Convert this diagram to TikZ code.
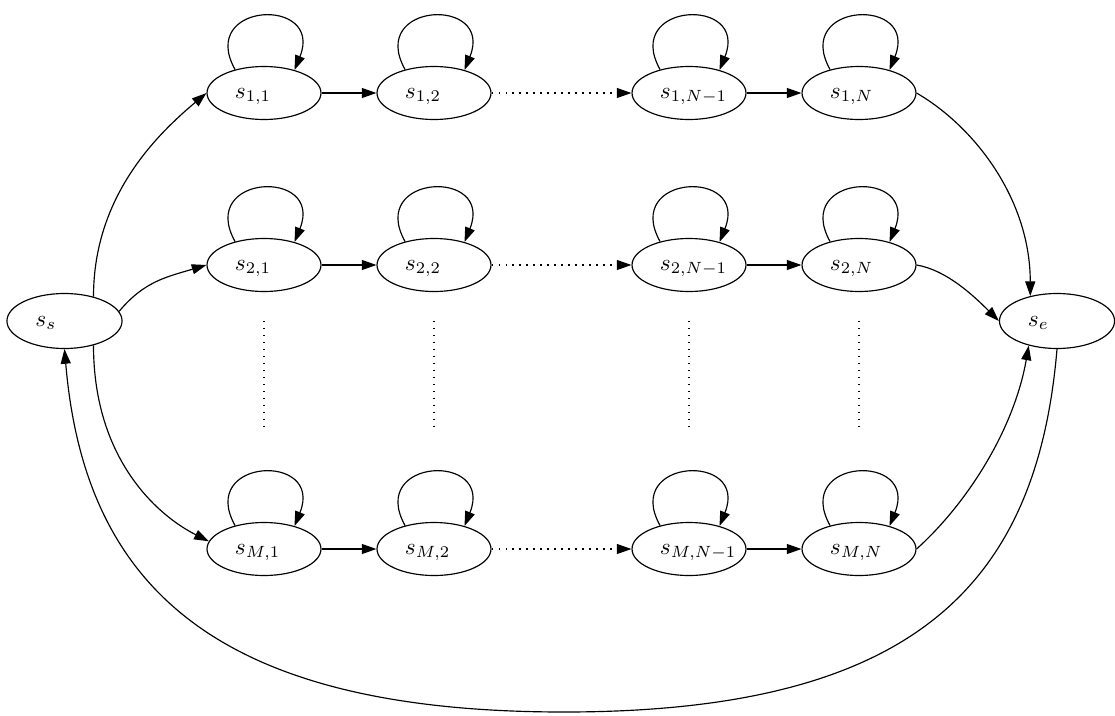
\documentclass[tikz,border=0pt]{standalone}
\usetikzlibrary{arrows.meta,shapes.geometric}
\newcommand{\lbl}[1]{\makebox[25pt][l]{$#1$}}
\tikzset{
  state/.style={draw, ellipse, inner sep=0pt, minimum width=49pt, minimum height=22.8pt,
    line width=0.5pt, text height=4.3pt, text depth=0pt},
  endstate/.style={state, minimum width=49.5pt, minimum height=23.65pt},
  edge/.style={line width=0.5pt, -{Triangle[length=6.3pt,width=4.3pt]}},
  dotedge/.style={edge, dash pattern=on 0.6pt off 2.4pt},
  vdots/.style={line width=0.5pt, dash pattern=on 0.6pt off 2.4pt},
}
\begin{document}
\begin{tikzpicture}[x=0.43pt,y=0.43pt]
\useasboundingbox (0,0) rectangle (1115,715);

% start and end states
\node[endstate] (ss) at (64.5,394) {\lbl{s_s}};
\node[endstate] (se) at (1057,394) {\lbl{s_e}};

% grid of states
\node[state] (s11) at (264,622) {\lbl{s_{1,1}}};
\node[state] (s12) at (434,622) {\lbl{s_{1,2}}};
\node[state] (s1n1) at (689,622) {\lbl{s_{1,N-1}}};
\node[state] (s1n) at (859,622) {\lbl{s_{1,N}}};

\node[state] (s21) at (264,450) {\lbl{s_{2,1}}};
\node[state] (s22) at (434,450) {\lbl{s_{2,2}}};
\node[state] (s2n1) at (689,450) {\lbl{s_{2,N-1}}};
\node[state] (s2n) at (859,450) {\lbl{s_{2,N}}};

\node[state] (sm1) at (264,166) {\lbl{s_{M,1}}};
\node[state] (sm2) at (434,166) {\lbl{s_{M,2}}};
\node[state] (smn1) at (689,166) {\lbl{s_{M,N-1}}};
\node[state] (smn) at (859,166) {\lbl{s_{M,N}}};

% self loops
\foreach \n in {s11,s12,s1n1,s1n,s21,s22,s2n1,s2n,sm1,sm2,smn1,smn}
  \draw[edge] (\n.141) .. controls +(-38,68) and +(30,74) .. (\n.37);

% row transitions
\foreach \r in {1,2,m} {
  \draw[edge] (s\r1) -- (s\r2);
  \draw[dotedge] (s\r2) -- (s\r n1);
  \draw[edge] (s\r n1) -- (s\r n);
}

% vertical ellipsis between rows 2 and M
\foreach \c/\x in {a/264,b/434,c/689,d/859} {
  \coordinate (top\c) at (\x,394);
  \coordinate (bot\c) at (\x,286);
  \draw[vdots] (top\c) -- (bot\c);
}

% entries from the start state
\draw[edge] (ss.40) .. controls +(0,100) and +(-50,-42) .. (s11.west);
\draw[edge] (ss.10) .. controls +(25,30) and +(-40,-12) .. (s21.west);
\draw[edge] (ss.-40) .. controls +(0,-115) and +(-50,25) .. (sm1.172);

% exits into the end state
\draw[edge] (s1n.east) .. controls +(60,-35) and +(0,95) .. (se.137);
\draw[edge] (s2n.east) .. controls +(30,-5) and +(-25,25) .. (se.west);
\draw[edge] (smn.east) .. controls +(50,45) and +(-15,-85) .. (se.221);

% return from end to start
\coordinate (low) at (564,3);
\draw[edge] (se.south) .. controls +(-20,-236) and +(350,0) .. (low)
  .. controls +(-350,0) and +(20,-236) .. (ss.south);
\end{tikzpicture}
\end{document}
